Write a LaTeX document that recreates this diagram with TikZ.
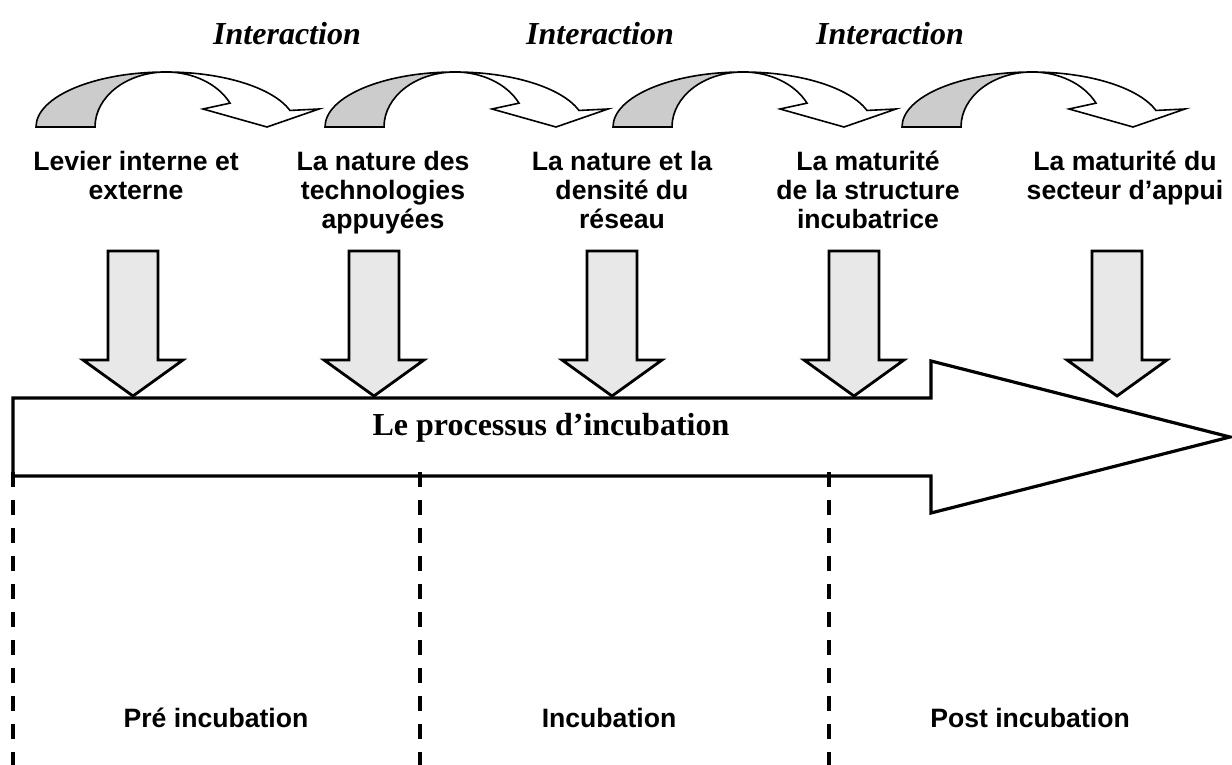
\documentclass[tikz,border=0pt]{standalone}
\usepackage{fontspec}
\setmainfont{Liberation Serif}
\setsansfont{Liberation Sans}
\definecolor{bandgray}{gray}{0.8}
\definecolor{vgray}{gray}{0.91}
\begin{document}
\begin{tikzpicture}[x=0.5pt,y=0.5pt,
  lbl/.style={font=\sffamily\bfseries\fontsize{13.3}{14.5}\selectfont, inner sep=0pt, anchor=base},
  inter/.style={font=\rmfamily\bfseries\itshape\fontsize{16}{19}\selectfont, inner sep=0pt, anchor=base},
  proc/.style={font=\rmfamily\bfseries\fontsize{16}{19}\selectfont, inner sep=0pt, anchor=base},
  band/.style={draw=black, line width=0.8pt, fill=bandgray, line join=miter},
  wband/.style={draw=black, line width=0.8pt, fill=white, line join=miter},
  varrow/.style={draw=black, line width=1.4pt, fill=vgray, line join=miter},
  bigarrow/.style={draw=black, line width=1.6pt, fill=white, line join=miter},
  phase/.style={draw=black, line width=2pt, dash pattern=on 7.5pt off 6.5pt}
]
\useasboundingbox (0,0) rectangle (1232,-765);

% curved interaction arrows
\foreach \L in {36,325,613,902} {
  \draw[band] (\L,-127) arc[start angle=180,end angle=90,x radius=65pt,y radius=27.5pt]
    arc[start angle=90,end angle=180,x radius=35.5pt,y radius=27.5pt] -- cycle;
  \draw[wband] (\L+130,-72) arc[start angle=90,end angle=17.5,x radius=65pt,y radius=27.5pt]
    -- (\L+283,-109) -- (\L+231,-127) -- (\L+167,-109) -- (\L+194,-103.15)
    arc[start angle=25.7,end angle=90,x radius=35.5pt,y radius=27.5pt] -- cycle;
}

\node[inter] (i1) at (287,-45) {Interaction};
\node[inter] (i2) at (600,-45) {Interaction};
\node[inter] (i3) at (890,-45) {Interaction};

% factor labels
\node[lbl] (f1) at (136,-170) {\begin{tabular}[t]{@{}c@{}}Levier interne et\\externe\end{tabular}};
\node[lbl] (f2) at (383,-170) {\begin{tabular}[t]{@{}c@{}}La nature des\\technologies\\appuyées\end{tabular}};
\node[lbl] (f3) at (622,-170) {\begin{tabular}[t]{@{}c@{}}La nature et la\\densité du\\réseau\end{tabular}};
\node[lbl] (f4) at (868,-170) {\begin{tabular}[t]{@{}c@{}}La maturité\\de la structure\\incubatrice\end{tabular}};
\node[lbl] (f5) at (1125,-170) {\begin{tabular}[t]{@{}c@{}}La maturité du\\secteur d’appui\end{tabular}};

% big process arrow
\draw[bigarrow] (13,-398) -- (931,-398) -- (931,-361) -- (1230,-437) -- (931,-513)
  -- (931,-476) -- (13,-476) -- cycle;
\node[proc] (p) at (551,-435) {Le processus d’incubation};

% vertical arrows
\foreach \c in {133,374,612,854,1117} {
  \draw[varrow] (\c-25,-251) -- (\c+25,-251) -- (\c+25,-360) -- (\c+50,-360) -- (\c,-396)
    -- (\c-50,-360) -- (\c-25,-360) -- cycle;
}

% phase separators
\draw[phase] (13,-472) -- (13,-765);
\draw[phase] (420,-472) -- (420,-765);
\draw[phase] (829,-472) -- (829,-765);

\node[lbl] (ph1) at (216,-727) {Pré incubation};
\node[lbl] (ph2) at (609,-727) {Incubation};
\node[lbl] (ph3) at (1030,-727) {Post incubation};
\end{tikzpicture}
\end{document}
